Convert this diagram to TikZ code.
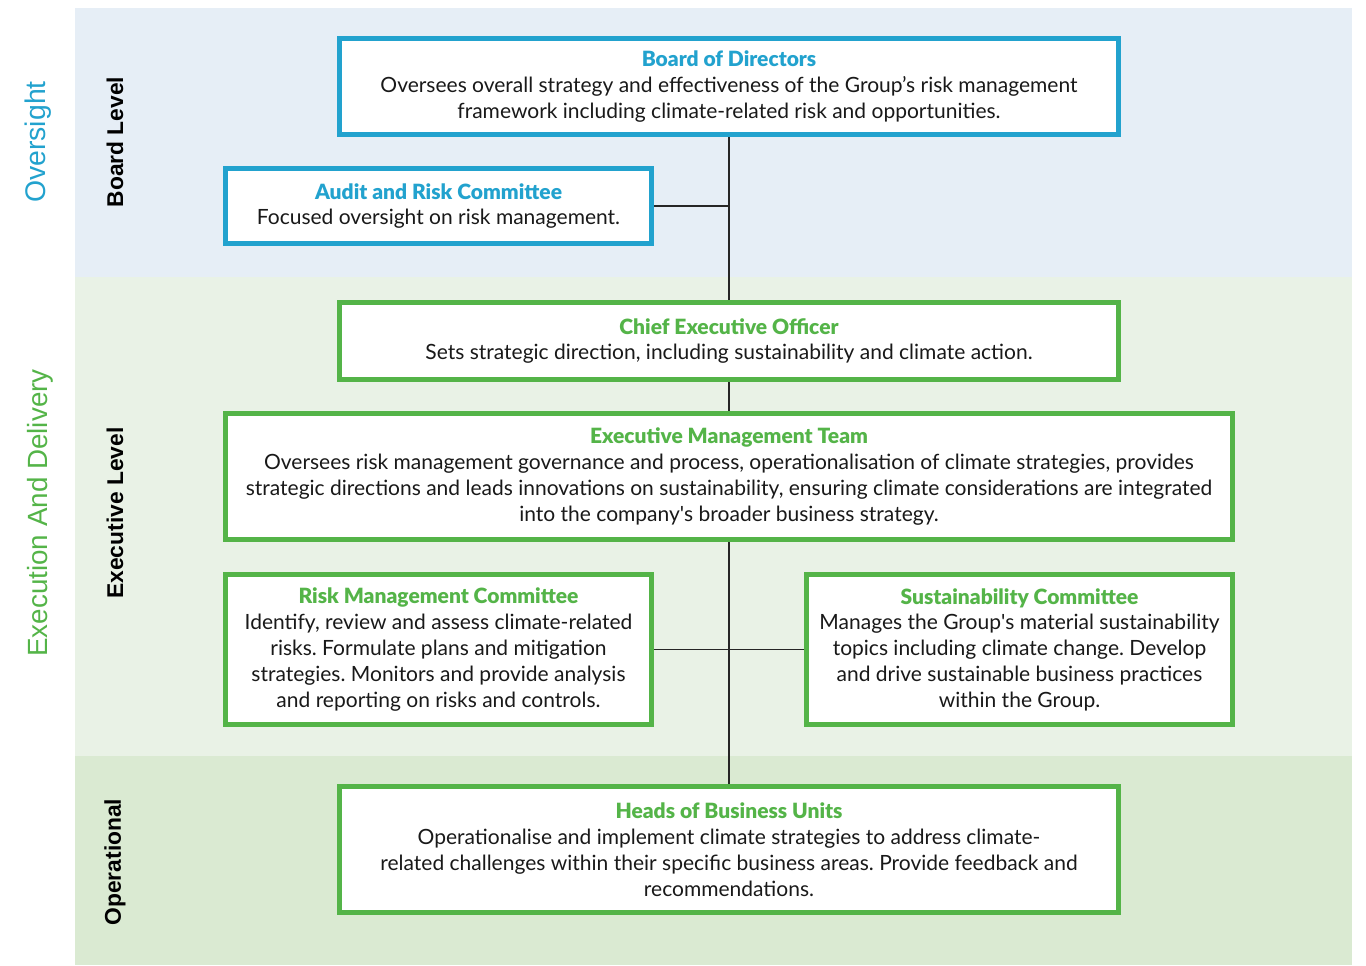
\documentclass[tikz,border=0pt]{standalone}
\usepackage{fontspec}
\setmainfont{Lato}
\newfontfamily\arialf{Liberation Sans}
\newfontfamily\latoblack{Lato Black}
\definecolor{cblue}{RGB}{34,162,206}
\definecolor{cgreen}{RGB}{84,180,72}
\definecolor{bandA}{RGB}{230,238,246}
\definecolor{bandB}{RGB}{233,242,230}
\definecolor{bandC}{RGB}{218,234,210}
\newcommand\bluettl[1]{{\color{cblue}\latoblack #1}}
\newcommand\greenttl[1]{{\color{cgreen}\latoblack #1}}
\frenchspacing
\begin{document}
\begin{tikzpicture}[x=0.5pt,y=-0.5pt,
  box/.style={draw, line width=2.5pt, fill=white, rectangle, inner sep=0pt, align=center,
    font=\fontsize{10.5}{12.9}\selectfont\frenchspacing, text=black!90},
  bluebox/.style={box, draw=cblue},
  greenbox/.style={box, draw=cgreen},
  lvl/.style={rotate=90, font=\arialf\bfseries\fontsize{11.4}{13}\selectfont, text=black},
  grp/.style={rotate=90, font=\arialf\fontsize{14.2}{16}\selectfont},
  conn/.style={draw=black!85, line width=0.65pt}]
\useasboundingbox (0,0) rectangle (1366,965);
\fill[bandA] (75,8) rectangle (1352,277);
\fill[bandB] (75,277) rectangle (1352,756);
\fill[bandC] (75,756) rectangle (1352,965);

\node[grp, text=cblue] (gOver) at (38,142) {Oversight};
\node[grp, text=cgreen, font=\arialf\fontsize{13.9}{16}\selectfont] (gExec) at (40,513) {Execution And Delivery};
\node[lvl] (lBoard) at (115,142) {Board Level};
\node[lvl] (lExec) at (115,513) {Executive Level};
\node[lvl] (lOper) at (115,862) {Operational};

\coordinate (spine) at (729,206);

\node[bluebox, minimum width=389.5pt, minimum height=48pt] (bod) at (729,86.5)
 {\bluettl{Board of Directors}\\
  Oversees overall strategy and effectiveness of the Group’s risk management\\
  framework including climate-related risk and opportunities.};
\node[bluebox, minimum width=213pt, minimum height=37.5pt] (arc) at (438.5,206)
 {\bluettl{Audit and Risk Committee}\\
  Focused oversight on risk management.};
\node[greenbox, minimum width=389.5pt, minimum height=38.5pt] (ceo) at (729,341)
 {\greenttl{Chief Executive Officer}\\
  Sets strategic direction, including sustainability and climate action.};
\node[greenbox, minimum width=503.5pt, minimum height=63pt] (emt) at (729,476.5)
 {\greenttl{Executive Management Team}\\
  Oversees risk management governance and process, operationalisation of climate strategies, provides\\
  strategic directions and leads innovations on sustainability, ensuring climate considerations are integrated\\
  into the company\textquotesingle s broader business strategy.};
\node[greenbox, minimum width=213pt, minimum height=75pt] (rmc) at (438.5,649.5)
 {\greenttl{Risk Management Committee}\\
  Identify, review and assess climate-related\\
  risks. Formulate plans and mitigation\\
  strategies. Monitors and provide analysis\\
  and reporting on risks and controls.};
\node[greenbox, minimum width=213pt, minimum height=75pt] (sc) at (1019.5,649.5)
 {\greenttl{Sustainability Committee}\\
  Manages the Group\textquotesingle s material sustainability\\
  topics including climate change. Develop\\
  and drive sustainable business practices\\
  within the Group.};
\node[greenbox, minimum width=389.5pt, minimum height=63pt] (hbu) at (729,849.5)
 {\greenttl{Heads of Business Units}\\
  Operationalise and implement climate strategies to address climate-\\
  related challenges within their specific business areas. Provide feedback and\\
  recommendations.};

\draw[conn] (bod.south) -- (ceo.north);
\draw[conn] (arc.east) -- (spine);
\draw[conn] (ceo.south) -- (emt.north);
\draw[conn] (emt.south) -- (hbu.north);
\draw[conn] (rmc.east) -- (sc.west);
\end{tikzpicture}
\end{document}
